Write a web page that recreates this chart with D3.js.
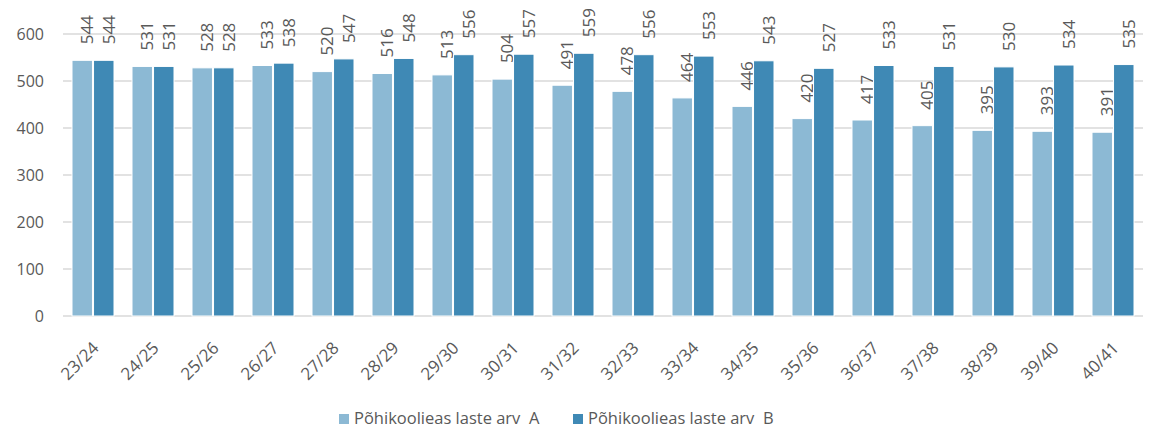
<!DOCTYPE html>
<html><head><meta charset="utf-8">
<script src="https://cdn.jsdelivr.net/npm/d3@7"></script>
<style>
body{margin:0;background:#fff;}
text{font-family:"Open Sans","Lato",sans-serif;fill:#595959;}
</style></head><body>
<svg id="c" width="1155" height="430"></svg>
<script>
const categories = ["23/24","24/25","25/26","26/27","27/28","28/29","29/30","30/31","31/32","32/33","33/34","34/35","35/36","36/37","37/38","38/39","39/40","40/41"];
const seriesA = [544,531,528,533,520,516,513,504,491,478,464,446,420,417,405,395,393,391];
const seriesB = [544,531,528,538,547,548,556,557,559,556,553,543,527,533,531,530,534,535];
const seriesNames = ["Põhikoolieas laste arv  A","Põhikoolieas laste arv  B"];
const yTicks = [0,100,200,300,400,500,600];
const colors = ["#8cb9d4","#3f89b5"];

const svg = d3.select("#c");
const mLeft = 63, mRight = 1143, mTop = 34, mBottom = 316;
const x = d3.scaleBand().domain(categories).range([mLeft,mRight]).paddingInner(0.3).paddingOuter(0.15);
const x1 = d3.scaleBand().domain([0,1]).range([0,x.bandwidth()]).paddingInner(0.05);
const y = d3.scaleLinear().domain([0,600]).range([mBottom,mTop]);

// gridlines
svg.append("g").selectAll("line").data(yTicks).join("line")
  .attr("x1",mLeft).attr("x2",mRight)
  .attr("y1",d=>y(d)).attr("y2",d=>y(d))
  .attr("stroke","#d9d9d9").attr("stroke-width",1.5);

// y axis labels
const yAxis = d3.axisLeft(y).tickValues(yTicks).tickSize(0).tickPadding(0);
const yg = svg.append("g").attr("transform",`translate(${mLeft-19},0)`).call(yAxis);
yg.select(".domain").remove();
yg.selectAll("text").style("font-size","16px").style("font-family","'Open Sans',sans-serif").attr("fill","#595959").attr("dy","0.35em");

const data = [seriesA, seriesB];
data.forEach((vals,si)=>{
  const g = svg.append("g");
  g.selectAll("rect").data(vals).join("rect")
    .attr("x",(d,i)=>x(categories[i])+x1(si))
    .attr("width",x1.bandwidth())
    .attr("y",d=>y(d))
    .attr("height",d=>y(0)-y(d))
    .attr("fill",colors[si]).attr("stroke","#fff").attr("stroke-width",1);
  g.selectAll("text").data(vals).join("text")
    .attr("transform",(d,i)=>`translate(${x(categories[i])+x1(si)+x1.bandwidth()/2+11},${y(d)-16}) rotate(-90)`)
    .attr("text-anchor","start")
    .style("font-size","17px")
    .text(d=>d);
});

// x axis labels
const xg = svg.append("g");
xg.selectAll("text").data(categories).join("text")
  .attr("transform",d=>`translate(${x(d)+x.bandwidth()/2+7},${mBottom+33}) rotate(-45)`)
  .attr("text-anchor","end")
  .style("font-size","17px")
  .text(d=>d);

// legend
const legX = [339,573];
seriesNames.forEach((n,i)=>{
  svg.append("rect").attr("x",legX[i]).attr("y",414).attr("width",10).attr("height",10).attr("fill",colors[i]);
  svg.append("text").attr("x",legX[i]+15).attr("y",424).style("font-size","16.5px").style("white-space","pre").text(n);
});
</script></body></html>
